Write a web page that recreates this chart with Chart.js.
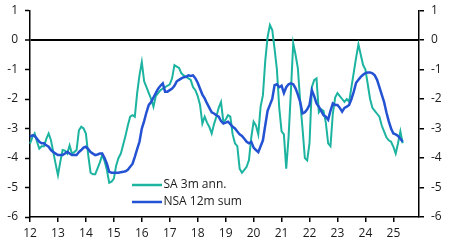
<!DOCTYPE html>
<html><head><meta charset="utf-8">
<script src="https://cdn.jsdelivr.net/npm/chart.js@4"></script>
<style>html,body{margin:0;padding:0;background:#fff}#wrap{width:451px;height:245px;position:relative}</style>
</head><body><div id="wrap"><canvas id="c" width="451" height="245"></canvas></div>
<script>
// Monthly data, Jan 2012 .. May 2025
const sa = [
  -3.51, -3.3, -3.17, -3.45, -3.68, -3.6, -3.6, -3.35, -3.17, -3.4, -3.8, -4.2,
  -4.58, -4.13, -3.73, -3.75, -3.85, -3.57, -3.85, -3.8, -3.73, -3.06, -2.94, -3.0,
  -3.17, -3.9, -4.5, -4.55, -4.55, -4.35, -4.15, -3.9, -4.1, -4.4, -4.84, -4.8,
  -4.7, -4.25, -4.0, -3.85, -3.55, -3.25, -2.9, -2.6, -2.55, -2.6, -1.8, -1.2,
  -0.75, -1.4, -1.6, -1.8, -2.0, -2.26, -1.9, -1.8, -1.7, -1.65, -1.6, -1.55,
  -1.5, -1.3, -0.85, -0.9, -0.95, -1.13, -1.2, -1.25, -1.3, -1.35, -1.6, -1.7,
  -1.9, -2.2, -2.83, -2.6, -2.8, -2.95, -3.17, -2.85, -2.6, -2.3, -2.1, -2.77,
  -2.7, -2.55, -2.6, -3.2, -3.5, -3.6, -4.36, -4.5, -4.4, -4.3, -4.07, -3.3,
  -2.77, -2.9, -3.2, -2.26, -1.87, -0.7, 0.1, 0.51, 0.34, -0.3, -1.0, -2.3,
  -3.1, -3.2, -4.36, -3.3, -1.75, -0.11, -0.5, -0.96, -2.1, -3.0, -4.0, -4.08,
  -3.5, -1.6, -1.36, -1.3, -2.45, -2.35, -2.4, -2.8, -3.5, -3.6, -2.5, -1.95,
  -1.8, -1.9, -2.0, -2.1, -2.0, -2.1, -1.6, -1.1, -0.6, -0.15, -0.5, -0.85,
  -1.0, -1.5, -2.0, -2.3, -2.4, -2.5, -2.6, -2.9, -3.1, -3.3, -3.4, -3.45,
  -3.62, -3.85, -3.5, -3.1, -3.5
];
const nsa = [
  -3.28, -3.23, -3.25, -3.35, -3.45, -3.5, -3.5, -3.57, -3.62, -3.73, -3.8, -3.85,
  -3.9, -3.9, -3.9, -3.85, -3.79, -3.85, -3.9, -3.9, -3.9, -3.8, -3.73, -3.65,
  -3.62, -3.7, -3.8, -3.85, -3.9, -3.88, -3.85, -3.85, -4.0, -4.19, -4.47, -4.5,
  -4.5, -4.5, -4.5, -4.48, -4.47, -4.45, -4.4, -4.3, -4.2, -3.96, -3.7, -3.45,
  -3.0, -2.75, -2.45, -2.2, -2.1, -1.95, -1.8, -1.65, -1.55, -1.47, -1.75, -1.75,
  -1.7, -1.65, -1.55, -1.4, -1.35, -1.3, -1.26, -1.25, -1.2, -1.22, -1.2, -1.3,
  -1.45, -1.65, -1.85, -1.98, -2.15, -2.3, -2.45, -2.49, -2.55, -2.6, -2.75, -2.83,
  -2.8, -2.77, -2.85, -2.94, -3.0, -3.1, -3.2, -3.25, -3.35, -3.45, -3.5, -3.45,
  -3.65, -3.73, -3.8, -3.6, -3.4, -2.89, -2.4, -2.2, -2.0, -1.53, -1.5, -1.6,
  -1.55, -1.8, -1.6, -1.5, -1.47, -1.5, -1.64, -1.85, -2.1, -2.49, -2.45, -2.35,
  -2.2, -1.7, -1.9, -2.15, -2.26, -2.4, -2.55, -2.6, -2.7, -2.4, -2.15, -2.2,
  -2.2, -2.3, -2.43, -2.3, -2.26, -2.2, -2.0, -1.75, -1.45, -1.35, -1.25, -1.18,
  -1.12, -1.1, -1.1, -1.13, -1.2, -1.35, -1.6, -1.85, -2.1, -2.45, -2.75, -3.0,
  -3.17, -3.2, -3.25, -3.35, -3.45
];
const seriesNames = ['SA 3m ann.', 'NSA 12m sum'];
const yMin = -6, yMax = 1;
// category labels: every month Jan 2012 .. Dec 2025
const months = [];
for (let y = 2012; y <= 2025; y++) for (let m = 1; m <= 12; m++) months.push(y + '-' + String(m).padStart(2, '0'));

const TEAL = '#1cb4a0';
const BLUE = '#2352d3';
const FONT = {family: "'Open Sans', sans-serif", size: 12};
const TXT = '#1a1a1a';

const legendPlugin = {
  id: 'inLegend',
  afterDraw(chart) {
    const ctx = chart.ctx;
    const items = [[seriesNames[0], TEAL, 2.5, 185], [seriesNames[1], BLUE, 2.5, 202]];
    ctx.save();
    ctx.font = "12px 'Open Sans', sans-serif";
    ctx.textBaseline = 'middle';
    ctx.fillStyle = TXT;
    for (const [t, c, w, y] of items) {
      ctx.strokeStyle = c; ctx.lineWidth = w;
      ctx.beginPath(); ctx.moveTo(132, y); ctx.lineTo(162, y); ctx.stroke();
      ctx.fillText(t, 163.5, y);
    }
    ctx.restore();
  }
};

const yCommon = {
  type: 'linear', min: yMin, max: yMax,
  ticks: {stepSize: 1, padding: 7, font: FONT, color: TXT},
  border: {display: true, color: '#000', width: 1.5},
};

new Chart(document.getElementById('c'), {
  type: 'line',
  data: {
    labels: months,
    datasets: [
      {label: seriesNames[1], data: nsa, borderColor: BLUE, borderWidth: 2.5, pointRadius: 0, tension: 0, order: 0, fill: false},
      {label: seriesNames[0], data: sa, borderColor: TEAL, borderWidth: 2, pointRadius: 0, tension: 0, order: 1, fill: false}
    ]
  },
  options: {
    responsive: false, animation: false, devicePixelRatio: 1,
    layout: {padding: {top: 10.5, bottom: 0, left: 0, right: 0}},
    plugins: {legend: {display: false}, tooltip: {enabled: false}},
    scales: {
      x: {
        type: 'category', offset: false,
        grid: {display: true, drawOnChartArea: false, drawTicks: true, tickLength: 5, color: '#000', lineWidth: 1.5, offset: false},
        border: {display: true, color: '#000', width: 1.5},
        ticks: {autoSkip: false, maxRotation: 0, padding: 4, font: FONT, color: TXT,
          callback: (v, i) => months[i].endsWith('-01') ? months[i].slice(2, 4) : null},
        afterFit: s => { s.height = 28; s.paddingLeft = 0; s.paddingRight = 0; }
      },
      y: Object.assign({}, yCommon, {
        position: 'left',
        grid: {display: true, drawOnChartArea: true, drawTicks: true, tickLength: 5,
          color: c => c.tick && c.tick.value === 0 ? '#000' : 'rgba(0,0,0,0)',
          lineWidth: c => c.tick && c.tick.value === 0 ? 2 : 1,
          tickColor: '#000', tickWidth: 1.5},
        afterFit: s => { s.width = 30; s.paddingTop = 0; s.paddingBottom = 0; }
      }),
      y2: Object.assign({}, yCommon, {
        position: 'right',
        grid: {display: true, drawOnChartArea: false, drawTicks: true, tickLength: 5, color: '#000', lineWidth: 1.5},
        afterFit: s => { s.width = 32; s.paddingTop = 0; s.paddingBottom = 0; }
      })
    }
  },
  plugins: [legendPlugin]
});
</script></body></html>
